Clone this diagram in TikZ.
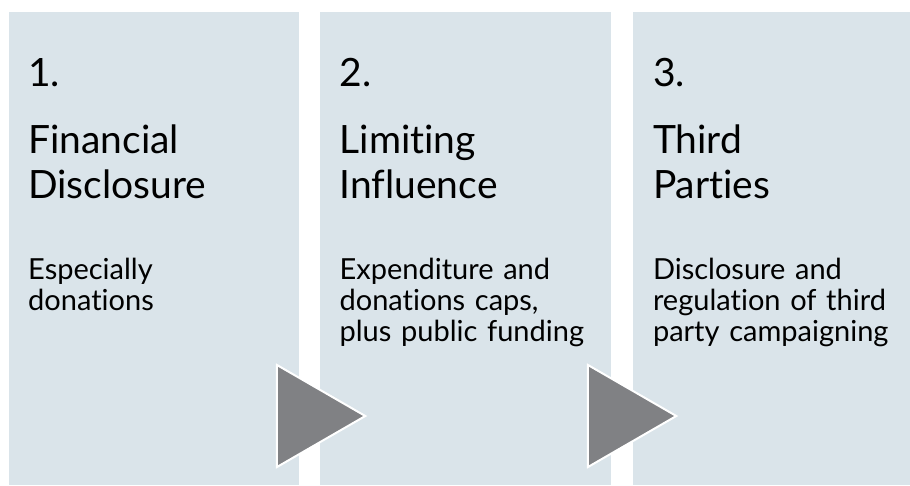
\documentclass[tikz,border=0pt]{standalone}
\usepackage{fontspec}
\setmainfont{Lato}[Ligatures=CommonOff]
\usetikzlibrary{shapes,positioning,calc}
\definecolor{panelblue}{HTML}{DAE4EA}
\definecolor{arrowgrey}{HTML}{808184}
\tikzset{
    panel/.style={
        rectangle,
        fill=panelblue,
        inner sep=0pt,
        minimum height=473pt
    },
    index_label/.style={
        font=\fontsize{39}{45}\selectfont,
        anchor=base west,
        inner sep=0pt
    },
    heading/.style={
        font=\fontsize{39}{45}\selectfont,
        text width=250pt,
        align=left,
        anchor=base west,
        inner sep=0pt
    },
    descr/.style={
        font=\fontsize{29}{31}\selectfont,
        text width=262pt,
        align=left,
        anchor=base west,
        inner sep=0pt
    },
    step_arrow/.style={
        regular polygon,
        regular polygon sides=3,
        shape border rotate=-90,
        draw=white,
        line width=2pt,
        fill=arrowgrey,
        inner sep=0pt,
        minimum size=117.8pt
    },
}

\begin{document}
\begin{tikzpicture}[x=1pt, y=-1pt, node distance = 20pt]
    \useasboundingbox (0,0) rectangle (910,485);

    % panels
    \node[panel, minimum width=290pt, anchor=north west] (p1) at (9,12) {};
    \node[panel, minimum width=291pt, right= of p1] (p2) {};
    \node[panel, minimum width=278pt, right=22pt of p2] (p3) {};

    % texts
    \node[index_label] (n1) at ($(p1.north west)+(19,74)$) {1.};
    \node[heading] (h1) at ($(n1.base west)+(0,67)$) {Financial\\Disclosure};
    \node[descr] (d1) at ($(n1.base west)+(0,193)$) {Especially\\donations};

    \node[index_label] (n2) at ($(p2.north west)+(20,74)$) {2.};
    \node[heading] (h2) at ($(n2.base west)+(0,67)$) {Limiting\\Influence};
    \node[descr] (d2) at ($(n2.base west)+(0,193)$) {Expenditure and\\donations caps,\\plus public funding};

    \node[index_label] (n3) at ($(p3.north west)+(20,74)$) {3.};
    \node[heading] (h3) at ($(n3.base west)+(0,67)$) {Third\\Parties};
    \node[descr] (d3) at ($(n3.base west)+(0,193)$) {Disclosure and\\regulation of third\\party campaigning};

    % arrows between panels
    \node[step_arrow] (a1) at (306.4,416) {};
    \node[step_arrow] (a2) at (617.4,416) {};
\end{tikzpicture}
\end{document}
